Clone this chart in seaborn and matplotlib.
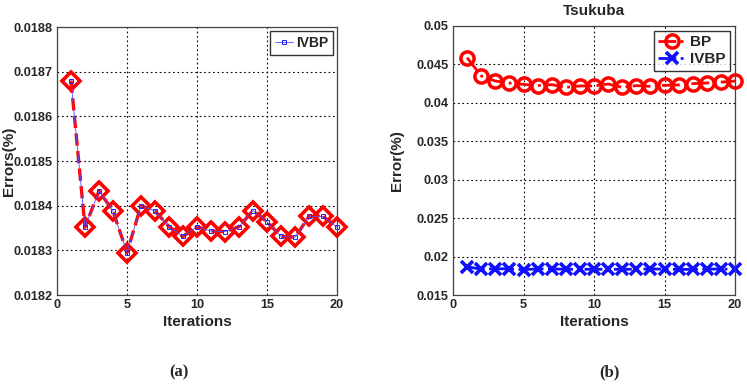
import numpy as np
import pandas as pd
import matplotlib
matplotlib.use("Agg")
import matplotlib.pyplot as plt
import seaborn as sns
from matplotlib import font_manager

iterations = list(range(1, 21))
ivbp_a = [0.018680, 0.018352, 0.018433, 0.018388, 0.018295, 0.018400, 0.018388,
          0.018353, 0.018331, 0.018353, 0.018343, 0.018342, 0.018353, 0.018389,
          0.018364, 0.018331, 0.018329, 0.018376, 0.018376, 0.018352]
bp_b = [0.04588, 0.04350, 0.04284, 0.04258, 0.04241, 0.04224, 0.04237, 0.04202,
        0.04220, 0.04220, 0.04245, 0.04202, 0.04224, 0.04215, 0.04228, 0.04233,
        0.04250, 0.04258, 0.04270, 0.04284]
ivbp_b = ivbp_a

yticks_a = [0.0182, 0.0183, 0.0184, 0.0185, 0.0186, 0.0187, 0.0188]
yticks_b = [0.015, 0.02, 0.025, 0.03, 0.035, 0.04, 0.045, 0.05]
xticks = [0, 5, 10, 15, 20]

sns.set_style("white")
names = {f.name for f in font_manager.fontManager.ttflist}
main_font = "Liberation Sans Narrow" if "Liberation Sans Narrow" in names else "Liberation Sans"
plt.rcParams['font.family'] = [main_font, 'DejaVu Sans']
plt.rcParams['font.weight'] = 'bold'
narrow = main_font == "Liberation Sans Narrow"
fs_tick = 11 if narrow else 9.2
fs_lab = 12 if narrow else 10

fig = plt.figure(figsize=(7.47, 3.84), dpi=100)
W, H = 747, 384
axA = fig.add_axes([57 / W, 1 - 295 / H, 280 / W, 268 / H])
axB = fig.add_axes([453 / W, 1 - 295 / H, 282 / W, 269 / H])

dfa = pd.DataFrame({"it": iterations, "err": ivbp_a})
dfb = pd.DataFrame({"it": iterations, "bp": bp_b, "ivbp": ivbp_b})

# (a)
sns.lineplot(data=dfa, x="it", y="err", ax=axA, color="red", linestyle="--",
             linewidth=2.4, marker="D", markersize=9, markerfacecolor="none",
             markeredgecolor="red", markeredgewidth=2.6, label="_nolegend_",
             clip_on=False)
sns.lineplot(data=dfa, x="it", y="err", ax=axA, color="#5050ff", linestyle="-",
             linewidth=0.6, marker="s", markersize=2.2, markerfacecolor="none",
             markeredgecolor="#2020ff", markeredgewidth=0.7, label="IVBP",
             clip_on=False)

# (b)
sns.lineplot(data=dfb, x="it", y="bp", ax=axB, color="red", linestyle="-.",
             linewidth=2, marker="o", markersize=9.5, markerfacecolor="none",
             markeredgecolor="red", markeredgewidth=2.5, label="BP", clip_on=False)
sns.lineplot(data=dfb, x="it", y="ivbp", ax=axB, color="#1010ff", linestyle="-.",
             linewidth=2, marker="x", markersize=8, markeredgewidth=2.6,
             markeredgecolor="#1010ff", label="IVBP", clip_on=False)

for ax in (axA, axB):
    ax.set_xlim(0, 20)
    ax.set_xticks(xticks)
    ax.grid(True, color="black", linestyle=(0, (1.5, 2.5)), linewidth=0.8)
    ax.tick_params(direction="in", length=3, labelsize=fs_tick, width=0.8, pad=3)
    for s in ax.spines.values():
        s.set_visible(True)
        s.set_color("#444444")
        s.set_linewidth(0.9)
    ax.set_xlabel("Iterations", fontsize=fs_lab + 1, fontweight="bold", labelpad=3)
    for lab in ax.get_xticklabels() + ax.get_yticklabels():
        lab.set_fontweight("bold")

axA.set_ylim(0.0182, 0.0188)
axA.set_yticks(yticks_a)
axA.set_yticklabels([f"{v:.4f}" for v in yticks_a])
axA.set_ylabel("Errors(%)", fontsize=fs_lab + 1, fontweight="bold")
axA.yaxis.set_label_coords((16 - 57) / 280, 0.5)

axB.set_ylim(0.015, 0.05)
axB.set_yticks(yticks_b)
axB.set_yticklabels([f"{v:g}" for v in yticks_b])
axB.set_ylabel("Error(%)", fontsize=fs_lab + 1, fontweight="bold")
axB.yaxis.set_label_coords((404 - 453) / 282, 0.5)
axB.set_title("Tsukuba", fontsize=fs_lab + 1, fontweight="bold", pad=8)

legA = axA.legend(loc="upper right", fontsize=fs_lab, frameon=True, fancybox=False,
                  edgecolor="black", handlelength=1.3, handletextpad=0.2,
                  borderpad=0.35, borderaxespad=0.3)
legB = axB.legend(loc="upper right", fontsize=fs_lab + 1, frameon=True, fancybox=False,
                  edgecolor="black", handlelength=1.8, handletextpad=0.3,
                  borderpad=0.3, borderaxespad=0.3, labelspacing=0.2)
for leg in (legA, legB):
    leg.get_frame().set_linewidth(1.0)
    for t in leg.get_texts():
        t.set_fontweight("bold")

fig.text(179 / W, 1 - 372 / H, "(a)", family="Liberation Serif", fontweight="bold",
         fontsize=12, ha="center", va="center")
fig.text(609 / W, 1 - 372 / H, "(b)", family="Liberation Serif", fontweight="bold",
         fontsize=12, ha="center", va="center")

fig.savefig("out.png", dpi=100, facecolor="white")
